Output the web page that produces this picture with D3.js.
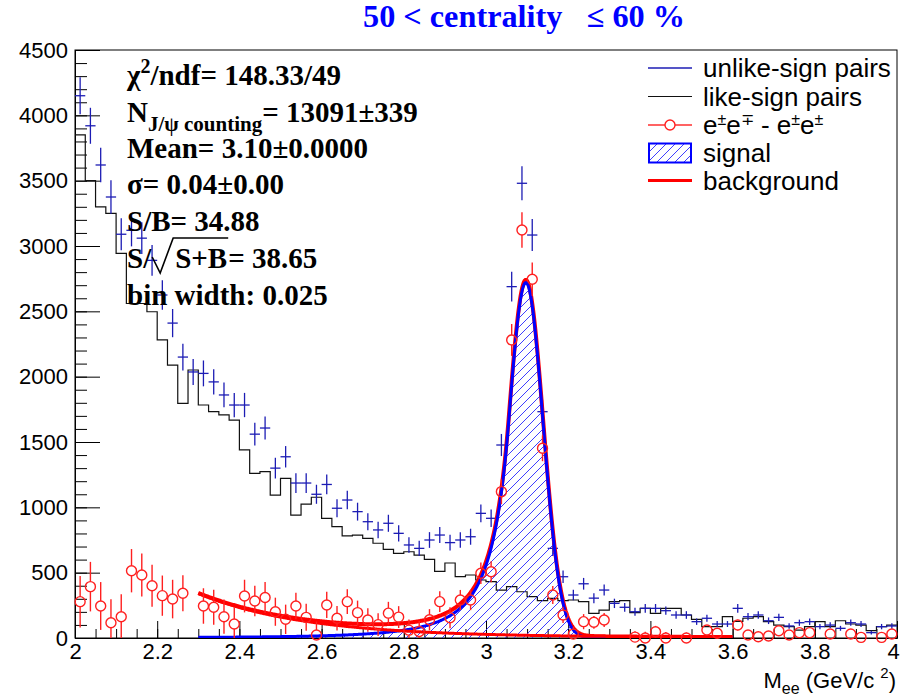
<!DOCTYPE html>
<html><head><meta charset="utf-8">
<script src="https://cdn.jsdelivr.net/npm/d3@7"></script>
<style>body{margin:0;background:#fff;} svg{display:block;} text{white-space:pre;}</style>
</head><body>
<svg id="c" width="902" height="697"></svg>
<script>
// ---------------- data ----------------
const binLow = 2.0, binWidth = 0.025;
const unlikeSign = [4150,3920,3620,3375,3090,3120,3060,2890,2625,2410,
2150,2036,2025,1960,1860,1783,1783,1560,1607,1300,
1387,1186,1186,1100,1175,993,1056,967,890,827,
878,801,712,686,750,788,730,750,775,954,
916,1477,2689,3480,3084,1732,686,469,329,415,
305,367,265,235,201,227,227,209,176,176,
125,151,107,107,227,163,176,132,158,92,
117,125,87,99,74,117,107,41,87,92];
const likeSign = [3850,3500,3300,3250,2943,2560,2560,2497,2281,2089,
1796,2051,1783,1732,1707,1668,1439,1260,1273,1094,
1222,941,1025,1077,916,852,781,788,763,725,
679,648,660,635,602,510,574,469,482,444,
431,367,393,354,316,286,304,286,291,278,
189,214,278,286,194,227,189,227,227,176,
143,87,87,163,128,151,163,125,99,87,
61,87,125,87,132,107,99,56,87,99];
const diffPairs = [278,393,245,117,163,515,482,400,324,298,
342,null,245,235,163,107,321,283,310,201,
143,245,158,23,253,151,278,194,138,102,
190,160,60,50,140,278,155,291,291,495,
507,1120,2281,3122,2745,1452,329,176,30,125,
120,138,null,null,7,0,48,0,null,0,
null,61,36,null,99,23,10,15,56,23,
41,41,null,31,null,31,5,null,5,31];
const errScale = 2.2;
const xTickValues = [2,2.2,2.4,2.6,2.8,3,3.2,3.4,3.6,3.8,4];
const xTickLabels = ["2","2.2","2.4","2.6","2.8","3","3.2","3.4","3.6","3.8","4"];
const yTickValues = [0,500,1000,1500,2000,2500,3000,3500,4000,4500];
// fit parameters (Crystal-Ball signal + exponential background)
const sigMean = 3.097, sigSigma = 0.042, sigAlpha = 1.0, sigN = 3, sigAmp = 2720;
const bkgAmp = 335, bkgSlope = 0.26, bkgConst = 5, fitLow = 2.3, fitHigh = 3.6;
const legendLabels = ["unlike-sign pairs","like-sign pairs","e±e∓ - e±e±","signal","background"];

// ---------------- setup ----------------
const svg = d3.select("#c");
const L=75, R=897, T=50, B=638;
const x = d3.scaleLinear().domain([2,4]).range([L,R]);
const y = d3.scaleLinear().domain([0,4500]).range([B,T]);
const SANS = "'Liberation Sans', Arial, Helvetica, sans-serif";
const SERIF = "'Liberation Serif', 'Times New Roman', serif";

const defs = svg.append("defs");
defs.append("clipPath").attr("id","plot").append("rect").attr("x",L).attr("y",T).attr("width",R-L).attr("height",B-T);
const hp = 9;
const pat = defs.append("pattern").attr("id","hatch").attr("patternUnits","userSpaceOnUse")
  .attr("width",hp).attr("height",hp);
pat.append("path").attr("d",`M-1,1 L1,-1 M0,${hp} L${hp},0 M${hp-1},${hp+1} L${hp+1},${hp-1}`)
  .attr("stroke","#2828ff").attr("stroke-width",0.9);

const n = unlikeSign.length;
const edge = i => binLow + i*binWidth;

// ---------------- axes ----------------
const minorX = d3.range(0,41).map(i => 2 + i*0.05);
svg.append("g").attr("transform",`translate(0,${B})`)
  .call(d3.axisBottom(x).tickValues(minorX).tickSize(-9).tickFormat(""))
  .call(g=>g.select(".domain").remove());
const xa = svg.append("g").attr("transform",`translate(0,${B})`)
  .call(d3.axisBottom(x).tickValues(xTickValues).tickSize(-17).tickPadding(5)
    .tickFormat((d,i)=>xTickLabels[i]));
xa.selectAll("text").attr("font-family",SANS).attr("font-size",22).attr("fill","#000")
  .attr("dx",(d,i)=> i===xTickValues.length-1 ? -4 : 0);

const minorY = d3.range(0,46).map(i => i*100);
svg.append("g").attr("transform",`translate(${L},0)`)
  .call(d3.axisLeft(y).tickValues(minorY).tickSize(-12).tickFormat(""))
  .call(g=>g.select(".domain").remove());
const ya = svg.append("g").attr("transform",`translate(${L},0)`)
  .call(d3.axisLeft(y).tickValues(yTickValues).tickSize(-25).tickPadding(7).tickFormat(d3.format("d")));
ya.selectAll("text").attr("font-family",SANS).attr("font-size",22).attr("fill","#000");
svg.selectAll(".tick line").attr("stroke","#000");
svg.selectAll(".domain").attr("stroke","#000");

// frame
svg.append("rect").attr("x",L).attr("y",T).attr("width",R-L).attr("height",B-T)
  .attr("fill","none").attr("stroke","#000").attr("stroke-width",1);

const plot = svg.append("g").attr("clip-path","url(#plot)");

// ---------------- like-sign histogram ----------------
const stepPts = likeSign.map((v,i)=>[edge(i),v]);
stepPts.push([edge(n), likeSign[n-1]]);
plot.append("path").attr("d", d3.line().x(d=>x(d[0])).y(d=>y(d[1])).curve(d3.curveStepAfter)(stepPts))
  .attr("fill","none").attr("stroke","#111").attr("stroke-width",1.2);

// ---------------- unlike-sign crosses ----------------
const gU = plot.append("g").attr("stroke","#1c1cb4").attr("stroke-width",1.3);
unlikeSign.forEach((v,i)=>{
  const e = errScale*Math.sqrt(v);
  const cx = x(edge(i)+binWidth/2);
  gU.append("line").attr("x1",x(edge(i))).attr("x2",x(edge(i+1))).attr("y1",y(v)).attr("y2",y(v));
  gU.append("line").attr("x1",cx).attr("x2",cx).attr("y1",y(v-e)).attr("y2",y(v+e));
});

// ---------------- fits ----------------
function cb(m){
  const t=(m-sigMean)/sigSigma;
  if (t > -sigAlpha) return sigAmp*Math.exp(-t*t/2);
  const A=Math.pow(sigN/sigAlpha,sigN)*Math.exp(-sigAlpha*sigAlpha/2);
  const Bc=sigN/sigAlpha-sigAlpha;
  return sigAmp*A*Math.pow(Bc-t,-sigN);
}
function bkg(m){ return bkgAmp*Math.exp(-(m-fitLow)/bkgSlope)+bkgConst; }
const ms = d3.range(0,651).map(i=>fitLow + i*(fitHigh-fitLow)/650);
const line = d3.line().x(d=>x(d[0])).y(d=>y(d[1]));
plot.append("path").attr("d", line(ms.map(m=>[m,cb(m)+bkg(m)])))
  .attr("fill","none").attr("stroke","#ff0000").attr("stroke-width",4);
const area = d3.area().x(d=>x(d[0])).y0(y(0)).y1(d=>y(d[1]));
plot.append("path").attr("d", area(ms.map(m=>[m,cb(m)]))).attr("fill","url(#hatch)");
plot.append("path").attr("d", line(ms.map(m=>[m,cb(m)])))
  .attr("fill","none").attr("stroke","#0000ff").attr("stroke-width",3);
plot.append("path").attr("d", line(ms.map(m=>[m,bkg(m)])))
  .attr("fill","none").attr("stroke","#ff0000").attr("stroke-width",3);

// ---------------- difference points ----------------
const gD = svg.append("g").attr("stroke","#ff2020").attr("stroke-width",1.4).attr("fill","none");
const rM = 5;
diffPairs.forEach((v,i)=>{
  if (v===null) return;
  const e = errScale*Math.sqrt(unlikeSign[i]+likeSign[i]);
  const cx = x(edge(i)+binWidth/2), cy=y(v);
  const top = Math.max(y(v+e), T), bot = Math.min(y(v-e), B);
  if (cy-rM > top) gD.append("line").attr("x1",cx).attr("x2",cx).attr("y1",top).attr("y2",cy-rM);
  if (cy+rM < bot) gD.append("line").attr("x1",cx).attr("x2",cx).attr("y1",cy+rM).attr("y2",bot);
  gD.append("circle").attr("cx",cx).attr("cy",cy).attr("r",rM);
});

// ---------------- legend ----------------
const lg = svg.append("g");
const rowY = [68, 96.5, 125, 153, 180.5];
const lx0=648, lx1=692, tx=703, lfs=26;
lg.append("line").attr("x1",lx0).attr("x2",lx1).attr("y1",rowY[0]).attr("y2",rowY[0]).attr("stroke","#1c1cb4").attr("stroke-width",1.3);
lg.append("line").attr("x1",lx0).attr("x2",lx1).attr("y1",rowY[1]).attr("y2",rowY[1]).attr("stroke","#111").attr("stroke-width",1.2);
lg.append("line").attr("x1",lx0).attr("x2",665).attr("y1",rowY[2]).attr("y2",rowY[2]).attr("stroke","#ff2020").attr("stroke-width",1.4);
lg.append("line").attr("x1",675).attr("x2",lx1).attr("y1",rowY[2]).attr("y2",rowY[2]).attr("stroke","#ff2020").attr("stroke-width",1.4);
lg.append("circle").attr("cx",670).attr("cy",rowY[2]).attr("r",5).attr("fill","none").attr("stroke","#ff2020").attr("stroke-width",1.4);
lg.append("rect").attr("x",lx0+1).attr("y",rowY[3]-9.5).attr("width",lx1-lx0-2).attr("height",19)
  .attr("fill","url(#hatch)").attr("stroke","#0000ff").attr("stroke-width",2);
lg.append("line").attr("x1",lx0).attr("x2",lx1).attr("y1",rowY[4]).attr("y2",rowY[4]).attr("stroke","#ff0000").attr("stroke-width",3);
function legText(i, parts){
  const t = lg.append("text").attr("x",tx).attr("y",rowY[i]+9).attr("font-family",SANS).attr("font-size",lfs).attr("fill","#000");
  parts.forEach(p=>t.append("tspan").attr("y",rowY[i]+9+(p.dy||0)).attr("font-size",p.s||lfs).text(p.t));
}
legText(0,[{t:legendLabels[0]}]);
legText(1,[{t:legendLabels[1]}]);
legText(2,[{t:"e"},{t:"±",s:16,dy:-9},{t:"e"},{t:"∓",s:16,dy:-9},{t:" - e"},{t:"±",s:16,dy:-9},{t:"e"},{t:"±",s:16,dy:-9}]);
legText(3,[{t:legendLabels[3]}]);
legText(4,[{t:legendLabels[4]}]);

// ---------------- stats text ----------------
const st = svg.append("g").attr("font-family",SERIF).attr("font-weight","bold").attr("fill","#000");
const sx = 127, fs = 29;
const base = [85, 122, 158, 194, 231, 268, 305];
function rich(yb, parts, x0){
  const t = st.append("text").attr("x",x0===undefined?sx:x0).attr("y",yb).attr("font-size",fs);
  parts.forEach(p=>t.append("tspan").attr("y",yb+(p.dy||0)).attr("font-size",p.s||fs).text(p.t));
  return t;
}
rich(base[0],[{t:"χ"},{t:"2",s:20,dy:-12},{t:"/ndf= 148.33/49"}]);
rich(base[1],[{t:"N"},{t:"J/ψ counting",s:21,dy:9},{t:"= 13091±339"}]);
rich(base[2],[{t:"Mean= 3.10±0.0000"}]);
rich(base[3],[{t:"σ= 0.04±0.00"}]);
rich(base[4],[{t:"S/B= 34.88"}]);
const t6a = rich(base[5],[{t:"S/"}]);
const w6 = t6a.node().getComputedTextLength();
const rx = sx + w6 + 1;
const t6b = rich(base[5],[{t:"S+B"}], rx+23);
const w6b = t6b.node().getComputedTextLength();
st.append("path").attr("d",`M${rx},${base[5]-11} L${rx+8},${base[5]+5} L${rx+21},${base[5]-30} H${rx+23+w6b+1}`)
  .attr("fill","none").attr("stroke","#000").attr("stroke-width",1.6);
rich(base[5],[{t:"= 38.65"}], rx+23+w6b+1);
rich(base[6],[{t:"bin width: 0.025"}]);

// ---------------- title & axis label ----------------
svg.append("text").attr("x",363).attr("y",27).attr("font-family",SERIF).attr("font-weight","bold")
  .attr("font-size",31).attr("fill","#0000ff").attr("textLength",322).attr("lengthAdjust","spacingAndGlyphs")
  .text("50 < centrality   ≤ 60 %");
const xl = svg.append("text").attr("x",896).attr("y",688).attr("text-anchor","end")
  .attr("font-family",SANS).attr("font-size",22).attr("fill","#000");
xl.append("tspan").text("M");
xl.append("tspan").attr("font-size",16).attr("dy",6).text("ee");
xl.append("tspan").attr("dy",-6).text(" (GeV/c ");
xl.append("tspan").attr("font-size",15).attr("dy",-10).text("2");
xl.append("tspan").attr("dy",10).text(")");
</script>
</body></html>
